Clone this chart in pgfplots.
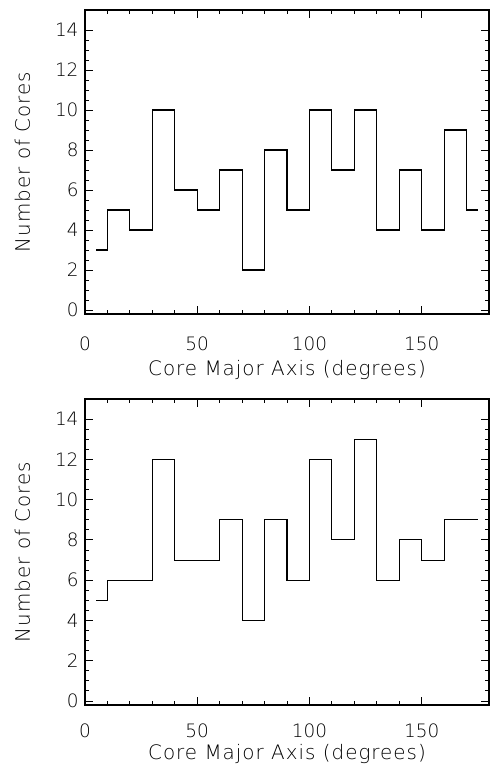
\documentclass[border=0pt]{standalone}
\usepackage{fontspec}
\setmainfont{DejaVu Sans ExtraLight}
\newfontfamily\labfont[LetterSpace=5]{DejaVu Sans ExtraLight}
\usepackage{pgfplots}
\pgfplotsset{compat=1.18}
\pgfplotsset{
  histax/.style={
    scale only axis, width=404bp, height=304bp, anchor=south west,
    xmin=0, xmax=180, ymin=-0.2, ymax=15,
    xtick={0,50,100,150}, minor x tick num=4,
    ytick={0,2,...,14}, minor y tick num=3,
    tick align=inside, tick pos=both,
    major tick length=8bp, minor tick length=4bp,
    every tick/.style={black, line width=0.9pt},
    axis line style={line width=1.1pt},
    tick label style={font=\fontsize{18.5}{18.5}\selectfont},
    label style={font=\labfont\fontsize{20}{20}\selectfont},
    /pgf/number format/assume math mode=true,
    xlabel={Core Major Axis (degrees)},
    ylabel={Number of Cores},
    yticklabel style={xshift=-3bp},
    ylabel style={yshift=18bp},
    clip=false,
  }
}
\begin{document}
\begin{tikzpicture}
\path[use as bounding box] (0,0) rectangle (491bp,767bp);
\begin{axis}[histax, at={(85bp,453bp)},
  xticklabel style={yshift=-19bp}, xlabel style={yshift=-3bp}]
\addplot[const plot, black, line width=1.1pt, mark=none] coordinates {
(5,3) (10,5) (20,4) (30,10) (40,6) (50,5) (60,7) (70,2) (80,8) (90,5)
(100,10) (110,7) (120,10) (130,4) (140,7) (150,4) (160,9) (170,5) (175,5)};
\end{axis}
\begin{axis}[histax, at={(85bp,62bp)}, height=306bp,
  xticklabel style={yshift=-15bp}, xlabel style={yshift=0bp}]
\addplot[const plot, black, line width=1.1pt, mark=none] coordinates {
(5,5) (10,6) (20,6) (30,12) (40,7) (50,7) (60,9) (70,4) (80,9) (90,6)
(100,12) (110,8) (120,13) (130,6) (140,8) (150,7) (160,9) (170,9) (175,9)};
\end{axis}
\end{tikzpicture}
\end{document}
